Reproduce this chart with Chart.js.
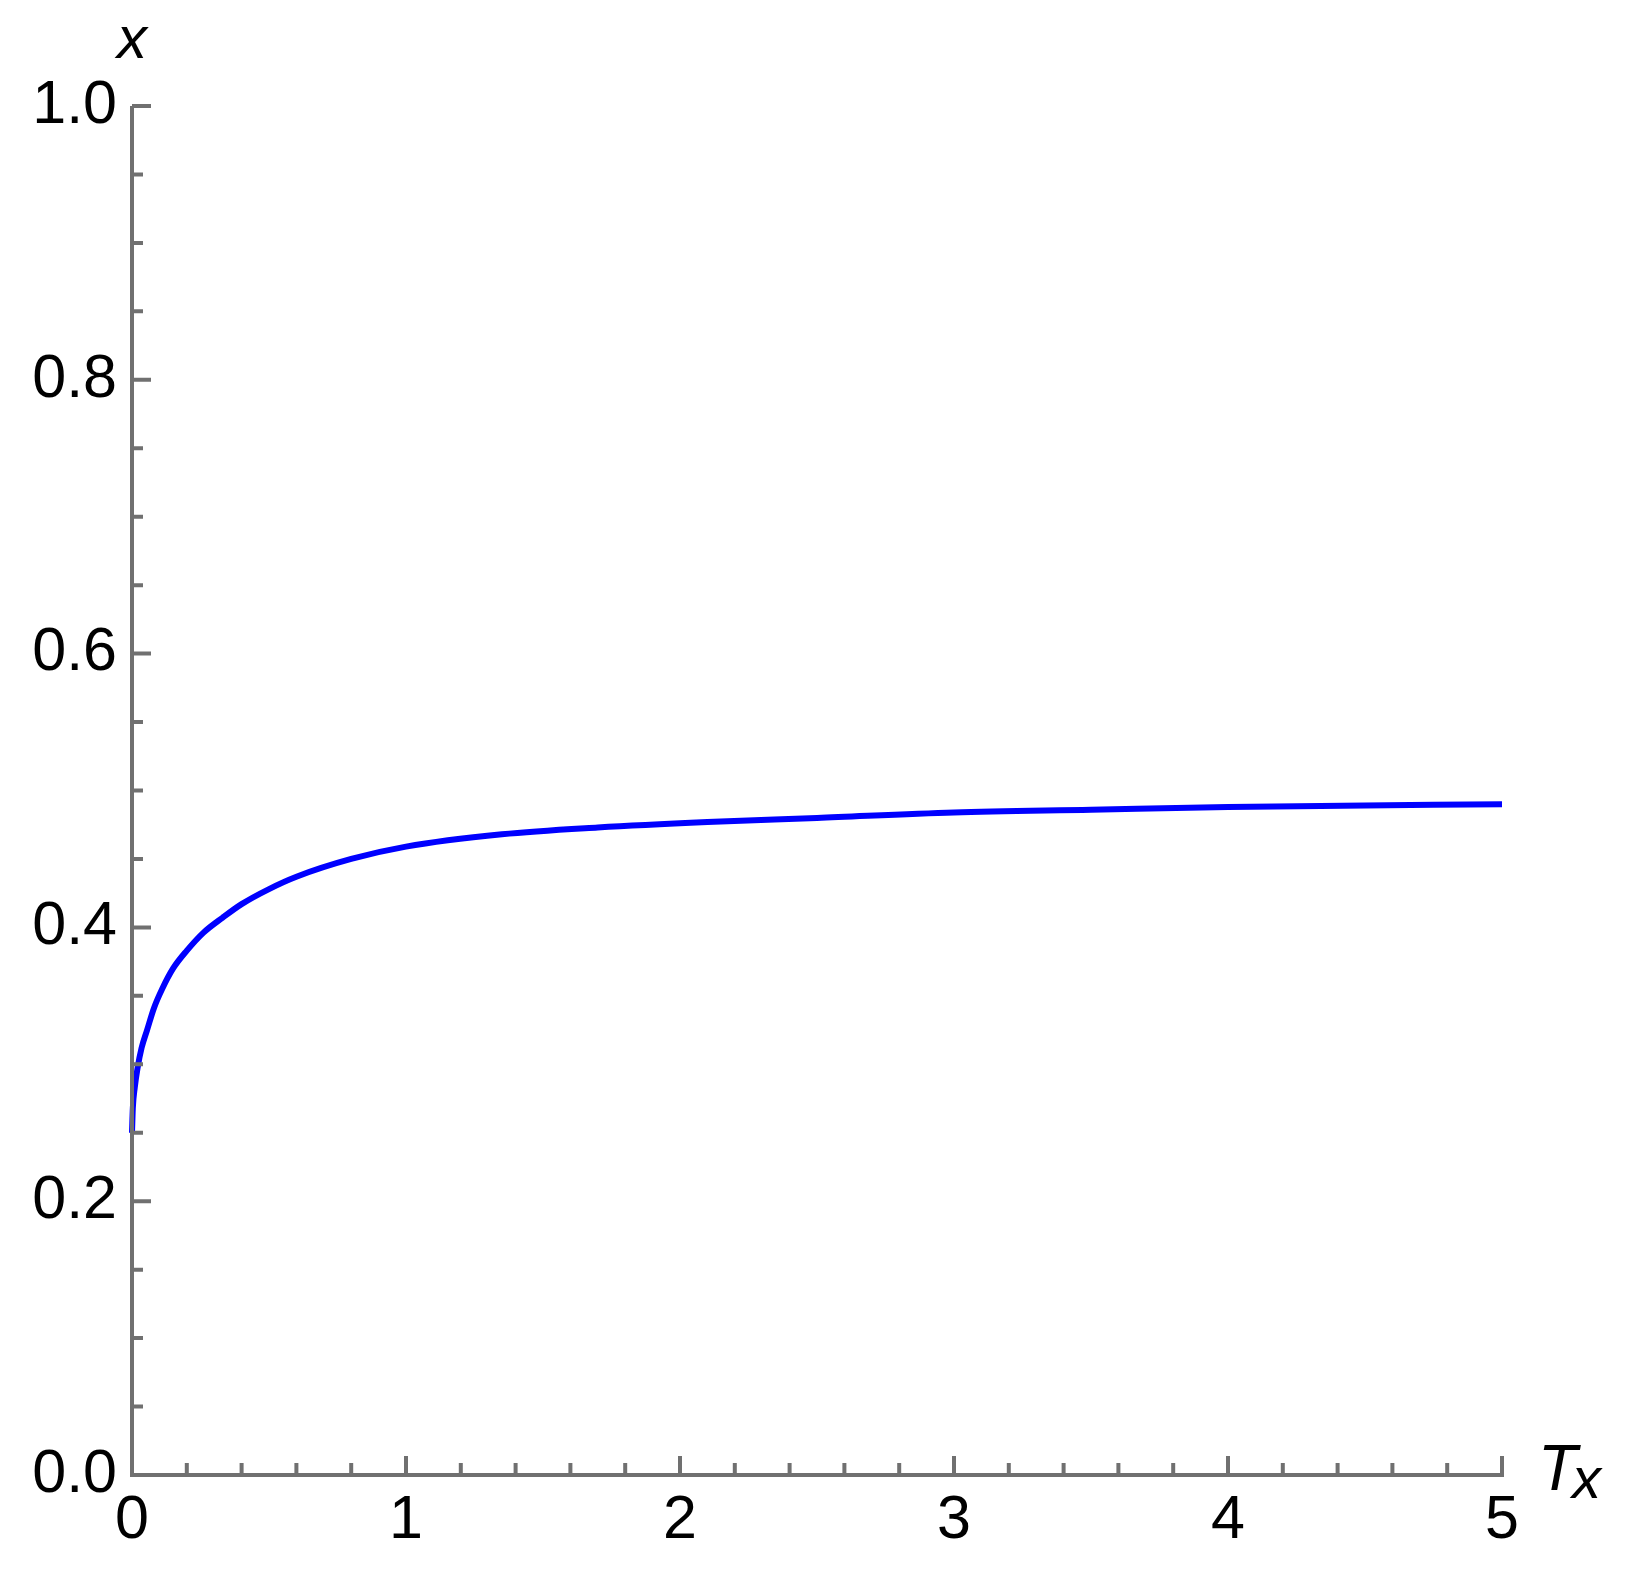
<!DOCTYPE html>
<html>
<head>
<meta charset="utf-8">
<script src="https://cdn.jsdelivr.net/npm/chart.js@4.4.1/dist/chart.umd.min.js"></script>
<style>
  html, body { margin: 0; padding: 0; background: #fff; }
  canvas { display: block; }
</style>
</head>
<body>
<canvas id="plot" width="1633" height="1575"></canvas>
<script>
// values
const tValues = [0, 0.003, 0.01, 0.02, 0.035, 0.055, 0.08, 0.11, 0.15, 0.2, 0.26, 0.33, 0.4, 0.5, 0.6, 0.8, 1.0, 1.35, 1.7, 2.1, 2.5, 3.0, 3.5, 4.0, 4.5, 5.0];
const xValues = [0.25, 0.268, 0.283, 0.297, 0.312, 0.325, 0.341, 0.355, 0.37, 0.383, 0.396, 0.407, 0.417, 0.428, 0.437, 0.45, 0.459, 0.468, 0.473, 0.477, 0.48, 0.484, 0.486, 0.488, 0.489, 0.49];

const xTickLabels = ["0", "1", "2", "3", "4", "5"];
const yTickLabels = ["0.0", "0.2", "0.4", "0.6", "0.8", "1.0"];

const axisColor = "#707070";
const lineColor = "#0000ff";
const labelFont = "Liberation Sans, Arial, sans-serif";

// minor tick positions
const xMinorTicks = [];
for (let i = 0; i <= 25; i++) xMinorTicks.push(i * 0.2);
const yMinorTicks = [];
for (let i = 0; i <= 20; i++) yMinorTicks.push(i * 0.05);

const axesPlugin = {
    id: "axesPlugin",
    afterDatasetsDraw(chart) {
        const { ctx, chartArea: a, scales: { x, y } } = chart;
        ctx.save();
        ctx.strokeStyle = axisColor;
        ctx.lineWidth = 4;
        ctx.lineCap = "butt";
        ctx.beginPath();
        // axis lines
        ctx.moveTo(x.getPixelForValue(0), y.getPixelForValue(1));
        ctx.lineTo(x.getPixelForValue(0), y.getPixelForValue(0) + 2);
        ctx.moveTo(x.getPixelForValue(0) - 2, y.getPixelForValue(0));
        ctx.lineTo(x.getPixelForValue(5) + 2, y.getPixelForValue(0));
        // ticks pointing inward
        xMinorTicks.forEach((v, i) => {
            const px = x.getPixelForValue(v);
            const len = i % 5 === 0 ? 19 : 12;
            ctx.moveTo(px, a.bottom);
            ctx.lineTo(px, a.bottom - len);
        });
        yMinorTicks.forEach((v, i) => {
            const py = y.getPixelForValue(v);
            const len = i % 4 === 0 ? 19 : 11;
            ctx.moveTo(a.left, py);
            ctx.lineTo(a.left + len, py);
        });
        ctx.stroke();

        // axis titles
        ctx.fillStyle = "#000";
        ctx.font = "italic 60px " + labelFont;
        ctx.textAlign = "center";
        ctx.textBaseline = "alphabetic";
        ctx.fillText("x", a.left, a.top - 48);
        ctx.textAlign = "left";
        ctx.font = "italic 64px " + labelFont;
        ctx.fillText("T", a.right + 36, a.bottom + 15);
        ctx.font = "italic 58px " + labelFont;
        ctx.fillText("x", a.right + 70, a.bottom + 23);
        ctx.restore();
    }
};

new Chart(document.getElementById("plot"), {
    type: "line",
    data: {
        datasets: [{
            data: tValues.map((t, i) => ({ x: t, y: xValues[i] })),
            borderColor: lineColor,
            borderWidth: 6,
            pointRadius: 0,
            fill: false,
            cubicInterpolationMode: "monotone",
            clip: 8
        }]
    },
    options: {
        responsive: false,
        animation: false,
        layout: { padding: { left: 0, right: 131, top: 106, bottom: 0 } },
        plugins: { legend: { display: false }, tooltip: { enabled: false } },
        scales: {
            x: {
                type: "linear",
                min: 0,
                max: 5,
                afterFit(s) { s.height = 100; },
                border: { display: false },
                grid: { display: false, drawTicks: false },
                ticks: {
                    stepSize: 1,
                    autoSkip: false,
                    maxRotation: 0,
                    padding: 10,
                    color: "#000",
                    font: { family: labelFont, size: 61 },
                    callback: (v) => xTickLabels[Math.round(v)]
                }
            },
            y: {
                type: "linear",
                min: 0,
                max: 1,
                afterFit(s) { s.width = 132; },
                border: { display: false },
                grid: { display: false, drawTicks: false },
                ticks: {
                    stepSize: 0.2,
                    autoSkip: false,
                    padding: 15,
                    color: "#000",
                    font: { family: labelFont, size: 61 },
                    callback: (v) => yTickLabels[Math.round(v * 5)]
                }
            }
        }
    },
    plugins: [axesPlugin]
});
</script>
</body>
</html>
